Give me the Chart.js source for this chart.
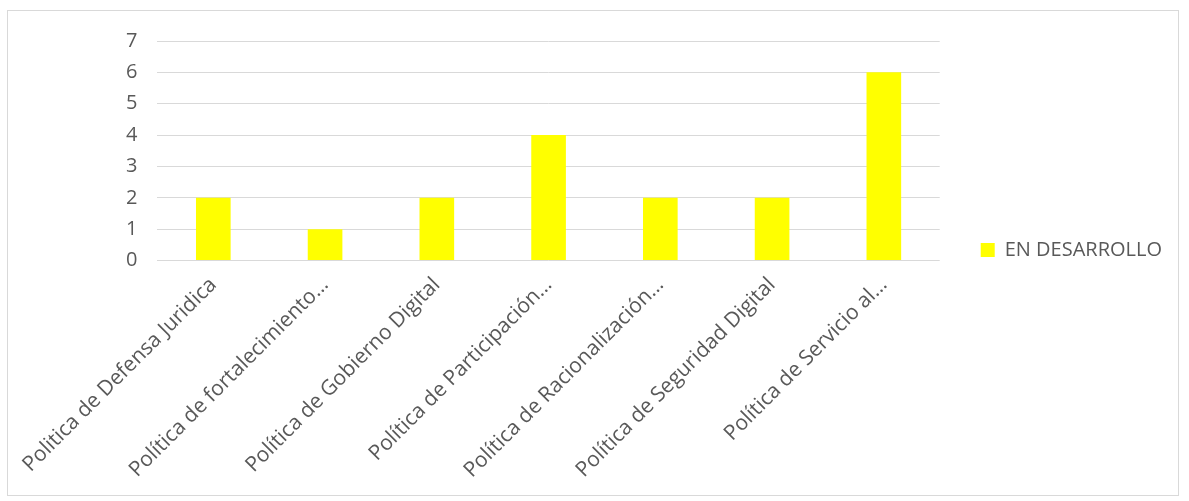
<!DOCTYPE html>
<html>
<head>
<meta charset="utf-8">
<script src="https://cdn.jsdelivr.net/npm/chart.js@4"></script>
<style>
    body { margin: 0; background: #ffffff; }
    #frame {
        position: absolute;
        left: 7px;
        top: 10px;
        width: 1172px;
        height: 486px;
        border: 1px solid #d9d9d9;
        box-sizing: border-box;
    }
</style>
</head>
<body>
<div id="frame"><canvas id="barChart"></canvas></div>
<script>
// politicas y cantidad en desarrollo
const categories = [
    'Politica de Defensa Juridica',
    'Política de fortalecimiento…',
    'Política de Gobierno Digital',
    'Política de Participación…',
    'Política de Racionalización…',
    'Política de Seguridad Digital',
    'Política de Servicio al…'
];
const enDesarrollo = [2, 1, 2, 4, 2, 2, 6];
const yTicks = [0, 1, 2, 3, 4, 5, 6, 7];

document.addEventListener('DOMContentLoaded', function () {
    generateBarChart();
});

function generateBarChart() {
    var ctx = document.getElementById('barChart').getContext('2d');
    Chart.defaults.font.family = '"Open Sans", sans-serif';
    Chart.defaults.color = '#595959';

    var barChart = new Chart(ctx, {
        type: 'bar',
        data: {
            labels: categories,
            datasets: [{
                label: 'EN DESARROLLO',
                data: enDesarrollo,
                backgroundColor: '#ffff00',
                borderWidth: 0,
                categoryPercentage: 1,
                barPercentage: 0.31
            }]
        },
        options: {
            responsive: true,
            maintainAspectRatio: false,
            animation: false,
            layout: {
                padding: { left: 98, right: 6, top: 2, bottom: 8 }
            },
            scales: {
                x: {
                    grid: { display: false },
                    border: { display: false },
                    ticks: {
                        font: { size: 21 },
                        minRotation: 45,
                        maxRotation: 45,
                        autoSkip: false,
                        padding: 4
                    }
                },
                y: {
                    min: 0,
                    max: 7,
                    afterBuildTicks: function (axis) {
                        axis.ticks = yTicks.map(function (v) { return { value: v }; });
                    },
                    grid: { color: '#d9d9d9', lineWidth: 1, drawTicks: false },
                    border: { display: false },
                    ticks: {
                        font: { size: 20, lineHeight: 1 },
                        padding: 20
                    }
                }
            },
            plugins: {
                legend: {
                    position: 'right',
                    labels: {
                        boxWidth: 14,
                        boxHeight: 14,
                        padding: 41,
                        font: { size: 20 }
                    }
                },
                tooltip: { enabled: false }
            }
        }
    });
}
</script>
</body>
</html>
